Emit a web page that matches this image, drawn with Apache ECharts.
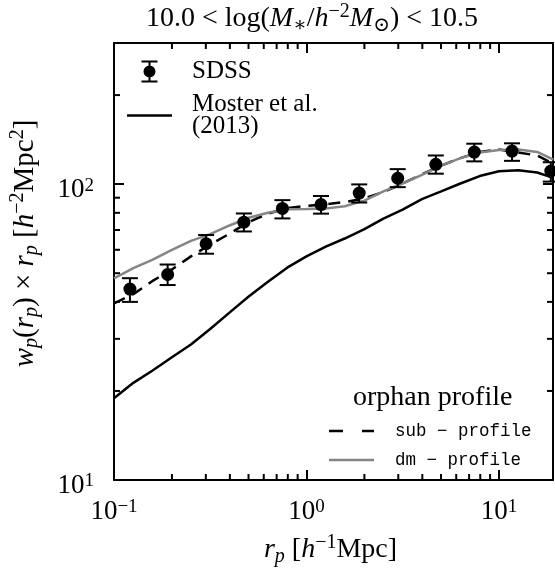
<!DOCTYPE html>
<html><head><meta charset="utf-8">
<script src="https://cdn.jsdelivr.net/npm/echarts@6/dist/echarts.min.js"></script>
<style>html,body{margin:0;padding:0;background:#fff}#c{width:555px;height:572px}</style>
</head><body><div id="c"></div>
<script>
// ---- data ----
const sdssX  = [0.121, 0.190, 0.301, 0.473, 0.750, 1.19, 1.88, 2.98, 4.70, 7.45, 11.7, 18.6];
const sdssY  = [44.2, 49.5, 62.9, 74.4, 82.8, 85.3, 93.3, 104.7, 116.7, 128.4, 129.4, 110.7];
const sdssLo = [40.0, 45.6, 58.2, 69.2, 76.6, 79.5, 86.7, 97.7, 108.5, 119.4, 119.9, 102.0];
const sdssHi = [48.1, 53.5, 67.3, 79.6, 88.3, 91.2, 99.8, 112.4, 125.0, 137.0, 137.4, 118.6];

const modelX   = [0.1, 0.126, 0.158, 0.2, 0.251, 0.316, 0.398, 0.501, 0.631, 0.794, 1.0, 1.26, 1.58, 2.0, 2.51, 3.16, 3.98, 5.01, 6.31, 7.94, 10, 12.6, 15.8, 19.2];
const mosterY  = [18.9, 21.3, 23.4, 26.0, 28.7, 32.4, 36.8, 41.7, 46.8, 52.2, 57.0, 61.5, 65.5, 70.5, 76.5, 82.0, 89.0, 94.5, 100.5, 106.5, 110.5, 111.5, 109.5, 105.0];
const subY     = [39.5, 42.5, 47.0, 51.5, 57.0, 62.5, 68.0, 74.5, 79.5, 83.0, 84.5, 85.5, 87.0, 89.5, 94.0, 100.5, 108.0, 115.5, 122.5, 128.5, 131.0, 128.0, 125.0, 117.0];
const dmY      = [48.0, 52.0, 55.5, 60.0, 64.3, 67.8, 72.5, 77.0, 80.0, 82.3, 82.4, 82.8, 84.2, 88.0, 94.5, 100.5, 107.5, 115.5, 122.5, 128.0, 130.5, 131.0, 128.5, 121.0];

const xMinorTicks = [0.2, 0.3, 0.4, 0.5, 0.6, 0.7, 0.8, 0.9, 2, 3, 4, 5, 6, 7, 8, 9];
const yMinorTicks = [20, 30, 40, 50, 60, 70, 80, 90, 200];

const xRange = [0.1, 19.1];
const yRange = [10, 300];

const seriesNames = ['SDSS', 'Moster et al.\n(2013)', 'sub \u2212 profile', 'dm \u2212 profile'];
const legendTitle = 'orphan profile';

// ---- styling ----
const SERIF = '"Liberation Serif", "DejaVu Serif", serif';
const MONO = '"Liberation Mono", "DejaVu Sans Mono", monospace';
const GRAY = '#858585';

function powLabel(v) {
  const e = Math.log10(v), r = Math.round(e);
  if (Math.abs(e - r) > 1e-6) return '';
  return '{b|10}{s|' + (r < 0 ? '\u2212' + (-r) : r) + '}';
}
const tickRich = {
  b: {fontFamily: SERIF, fontSize: 27, lineHeight: 28, color: '#000'},
  s: {fontFamily: SERIF, fontSize: 19, lineHeight: 19, color: '#000', verticalAlign: 'top'}
};
const mathRich = (fs) => {
  const sm = Math.round(fs * 0.7);
  const base = {fontFamily: SERIF, color: '#000', fontWeight: 'normal'};
  return {
    n: Object.assign({}, base, {fontSize: fs, lineHeight: 34}),
    i: Object.assign({}, base, {fontSize: fs, lineHeight: 34, fontStyle: 'italic'}),
    sub: Object.assign({}, base, {fontSize: sm, lineHeight: 17, verticalAlign: 'bottom'}),
    isub: Object.assign({}, base, {fontSize: sm, lineHeight: 17, verticalAlign: 'bottom', fontStyle: 'italic'}),
    sup: Object.assign({}, base, {fontSize: sm, lineHeight: 17, verticalAlign: 'top'})
  };
};

const sdssIcon = 'path://M-8,-11h16v2h-16z M-1,-11h2v22h-2z M-8,9h16v2h-16z M-6,0a6,6 0 1,1 12,0a6,6 0 1,1 -12,0z';
const solidIcon = 'path://M0,0h45v2.5h-45z';
const dashIcon = 'path://M0,0h14v2.5h-14z M33,0h12v2.5h-12z';

const axisBase = {
  type: 'log', logBase: 10,
  axisLine: {show: true, onZero: false, lineStyle: {color: '#000', width: 2}},
  axisTick: {show: true, inside: true, length: 10, lineStyle: {color: '#000', width: 2}},
  splitLine: {show: false},
  minorTick: {show: false}
};

const chart = echarts.init(document.getElementById('c'), null, {renderer: 'canvas'});
chart.setOption({
  animation: false,
  backgroundColor: '#fff',
  title: [
    {
      text: '{n|10.0 < log(}{i|M}{sub|\u2217}{n|/}{i|h}{sup|\u22122}{i|M}{sub|\u2299}{n|) < 10.5}',
      left: 312, top: 2, padding: 0, textAlign: 'center',
      textStyle: {fontWeight: 'normal', rich: mathRich(28)}
    },
    {
      text: legendTitle, left: 353, top: 384, padding: 0,
      textStyle: {fontFamily: SERIF, fontSize: 28, lineHeight: 28, fontWeight: 'normal', color: '#000'}
    }
  ],
  grid: {left: 108, top: 43, right: 2, bottom: 84, containLabel: false},
  xAxis: [
    Object.assign({}, axisBase, {
      position: 'bottom', min: xRange[0], max: xRange[1],
      axisLabel: {formatter: powLabel, margin: 18, rich: tickRich, showMaxLabel: false},
      name: '{i|r}{isub|p}{n| [}{i|h}{sup|\u22121}{n|Mpc]}',
      nameLocation: 'middle', nameGap: 53,
      nameTextStyle: {rich: mathRich(28), padding: [0, 6, 0, 0]}
    }),
    Object.assign({}, axisBase, {position: 'top', min: xRange[0], max: xRange[1], axisLabel: {show: false}})
  ],
  yAxis: [
    Object.assign({}, axisBase, {
      position: 'left', min: yRange[0], max: yRange[1],
      axisLabel: {formatter: powLabel, margin: 20, rich: tickRich, showMaxLabel: false, padding: [12, 0, 0, 0]},
      name: '{i|w}{isub|p}{n|(}{i|r}{isub|p}{n|) \u00d7 }{i|r}{isub|p}{n| [}{i|h}{sup|\u22122}{n|Mpc}{sup|2}{n|]}',
      nameLocation: 'middle', nameGap: 72, nameRotate: 90,
      nameTextStyle: {rich: mathRich(29), padding: [0, 0, 0, 36]}
    }),
    Object.assign({}, axisBase, {position: 'right', min: yRange[0], max: yRange[1], axisLabel: {show: false}})
  ],
  legend: [
    {
      left: 127, top: 59, orient: 'vertical', padding: 0, itemGap: 8,
      itemWidth: 45, itemHeight: 22, selectedMode: false,
      data: [{name: seriesNames[0], icon: sdssIcon}, {name: seriesNames[1], icon: solidIcon}],
      textStyle: {fontFamily: SERIF, fontSize: 25, lineHeight: 22, color: '#000', padding: [0, 0, 0, 15]}
    },
    {
      left: 329, top: 421, orient: 'vertical', padding: 0, itemGap: 9,
      itemWidth: 45, itemHeight: 14, selectedMode: false,
      data: [{name: seriesNames[2], icon: dashIcon}, {name: seriesNames[3], icon: solidIcon}],
      textStyle: {fontFamily: MONO, fontSize: 17.5, lineHeight: 20, color: '#000', padding: [0, 0, 0, 16]}
    }
  ],
  series: [
    {
      type: 'custom', name: 'xminor', silent: true, coordinateSystem: 'cartesian2d',
      data: xMinorTicks.map(v => [v, yRange[0]]),
      renderItem: (params, api) => {
        const p = api.coord([api.value(0), api.value(1)]);
        const cs = params.coordSys, st = {stroke: '#000', lineWidth: 2};
        return {type: 'group', children: [
          {type: 'line', shape: {x1: p[0], y1: cs.y + cs.height, x2: p[0], y2: cs.y + cs.height - 6}, style: st},
          {type: 'line', shape: {x1: p[0], y1: cs.y, x2: p[0], y2: cs.y + 6}, style: st}
        ]};
      }
    },
    {
      type: 'custom', name: 'yminor', silent: true, coordinateSystem: 'cartesian2d',
      data: yMinorTicks.map(v => [xRange[0], v]),
      renderItem: (params, api) => {
        const p = api.coord([api.value(0), api.value(1)]);
        const cs = params.coordSys, st = {stroke: '#000', lineWidth: 2};
        return {type: 'group', children: [
          {type: 'line', shape: {x1: cs.x, y1: p[1], x2: cs.x + 6, y2: p[1]}, style: st},
          {type: 'line', shape: {x1: cs.x + cs.width, y1: p[1], x2: cs.x + cs.width - 6, y2: p[1]}, style: st}
        ]};
      }
    },
    {
      type: 'line', name: seriesNames[1], data: modelX.map((x, i) => [x, mosterY[i]]),
      showSymbol: false, symbol: 'none', clip: true, z: 2,
      lineStyle: {color: '#000', width: 2.5}, itemStyle: {color: '#000'}
    },
    {
      type: 'line', name: seriesNames[2], data: modelX.map((x, i) => [x, subY[i]]),
      showSymbol: false, symbol: 'none', clip: true, z: 2,
      lineStyle: {color: '#000', width: 2.5, type: [12, 8]}, itemStyle: {color: '#000'}
    },
    {
      type: 'line', name: seriesNames[3], data: modelX.map((x, i) => [x, dmY[i]]),
      showSymbol: false, symbol: 'none', clip: true, z: 3,
      lineStyle: {color: GRAY, width: 2.5}, itemStyle: {color: GRAY}
    },
    {
      type: 'custom', name: 'SDSS errors', silent: true, coordinateSystem: 'cartesian2d', z: 4,
      data: sdssX.map((x, i) => [x, sdssLo[i], sdssHi[i]]),
      encode: {x: 0, y: [1, 2]},
      renderItem: (params, api) => {
        const a = api.coord([api.value(0), api.value(1)]);
        const b = api.coord([api.value(0), api.value(2)]);
        const st = {stroke: '#000', lineWidth: 2};
        return {type: 'group', children: [
          {type: 'line', shape: {x1: a[0], y1: a[1], x2: b[0], y2: b[1]}, style: st},
          {type: 'line', shape: {x1: a[0] - 8, y1: a[1], x2: a[0] + 8, y2: a[1]}, style: st},
          {type: 'line', shape: {x1: b[0] - 8, y1: b[1], x2: b[0] + 8, y2: b[1]}, style: st}
        ]};
      }
    },
    {
      type: 'scatter', name: seriesNames[0], data: sdssX.map((x, i) => [x, sdssY[i]]),
      symbol: 'circle', symbolSize: 13, z: 5, itemStyle: {color: '#000', opacity: 1}
    }
  ]
});
</script></body></html>
